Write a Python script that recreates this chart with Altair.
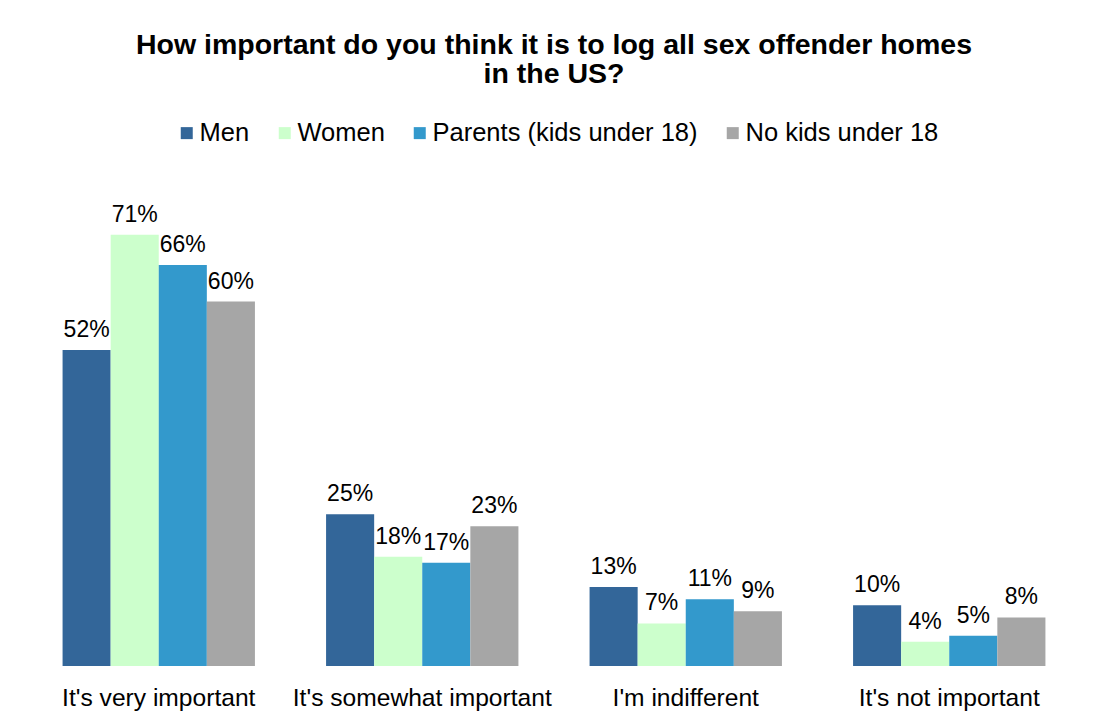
import altair as alt
import pandas as pd

categories = ["It's very important", "It's somewhat important", "I'm indifferent", "It's not important"]
series = ["Men", "Women", "Parents (kids under 18)", "No kids under 18"]
men = [52, 25, 13, 10]
women = [71, 18, 7, 4]
parents = [66, 17, 11, 5]
nokids = [60, 23, 9, 8]
colors = ["#336699", "#CCFFCC", "#3399CC", "#A6A6A6"]

rows = []
for s, vals in zip(series, [men, women, parents, nokids]):
    for c, v in zip(categories, vals):
        rows.append({"category": c, "series": s, "value": v, "label": f"{v}%"})
df = pd.DataFrame(rows)

FONT = "Liberation Sans"

x = alt.X("category:N", sort=categories,
          scale=alt.Scale(paddingInner=0.27, paddingOuter=0.135),
          axis=alt.Axis(title=None, domain=False, ticks=False, labelAngle=0,
                        labelFontSize=24.6, labelColor="black", labelFont=FONT,
                        labelPadding=20, labelLimit=0))
xo = alt.XOffset("series:N", sort=series, scale=alt.Scale(paddingInner=0, paddingOuter=0))
y = alt.Y("value:Q", scale=alt.Scale(domain=[0, 80]), axis=None)

bars = alt.Chart(df).mark_bar().encode(
    x=x, xOffset=xo, y=y,
    color=alt.Color("series:N", sort=series,
                    scale=alt.Scale(domain=series, range=colors),
                    legend=alt.Legend(title=None, orient="none", direction="horizontal",
                                      legendX=147, legendY=-60,
                                      symbolType="square", symbolSize=144,
                                      symbolStrokeWidth=0,
                                      labelFontSize=25.5, labelFont=FONT, labelColor="black",
                                      labelOffset=0, columnPadding=22, padding=0,
                                      labelLimit=0)),
)

labels = alt.Chart(df).mark_text(baseline="alphabetic", dy=-13, fontSize=23,
                                 font=FONT, color="black").encode(
    x=x, xOffset=xo, y=y, text="label:N"
)

chart = alt.layer(bars, labels).properties(
    width=1054, height=486,
    title=alt.TitleParams(
        ["How important do you think it is to log all sex offender homes", "in the US?"],
        fontSize=28.5, font=FONT, fontWeight="bold", color="black",
        anchor="middle", lineHeight=29, offset=32),
    autosize=alt.AutoSizeParams(type="none"),
    padding={"left": 19, "top": 172, "right": 0, "bottom": 50},
).configure_view(stroke=None)

chart.save("out.html", embed_options={"renderer": "svg", "actions": False})
